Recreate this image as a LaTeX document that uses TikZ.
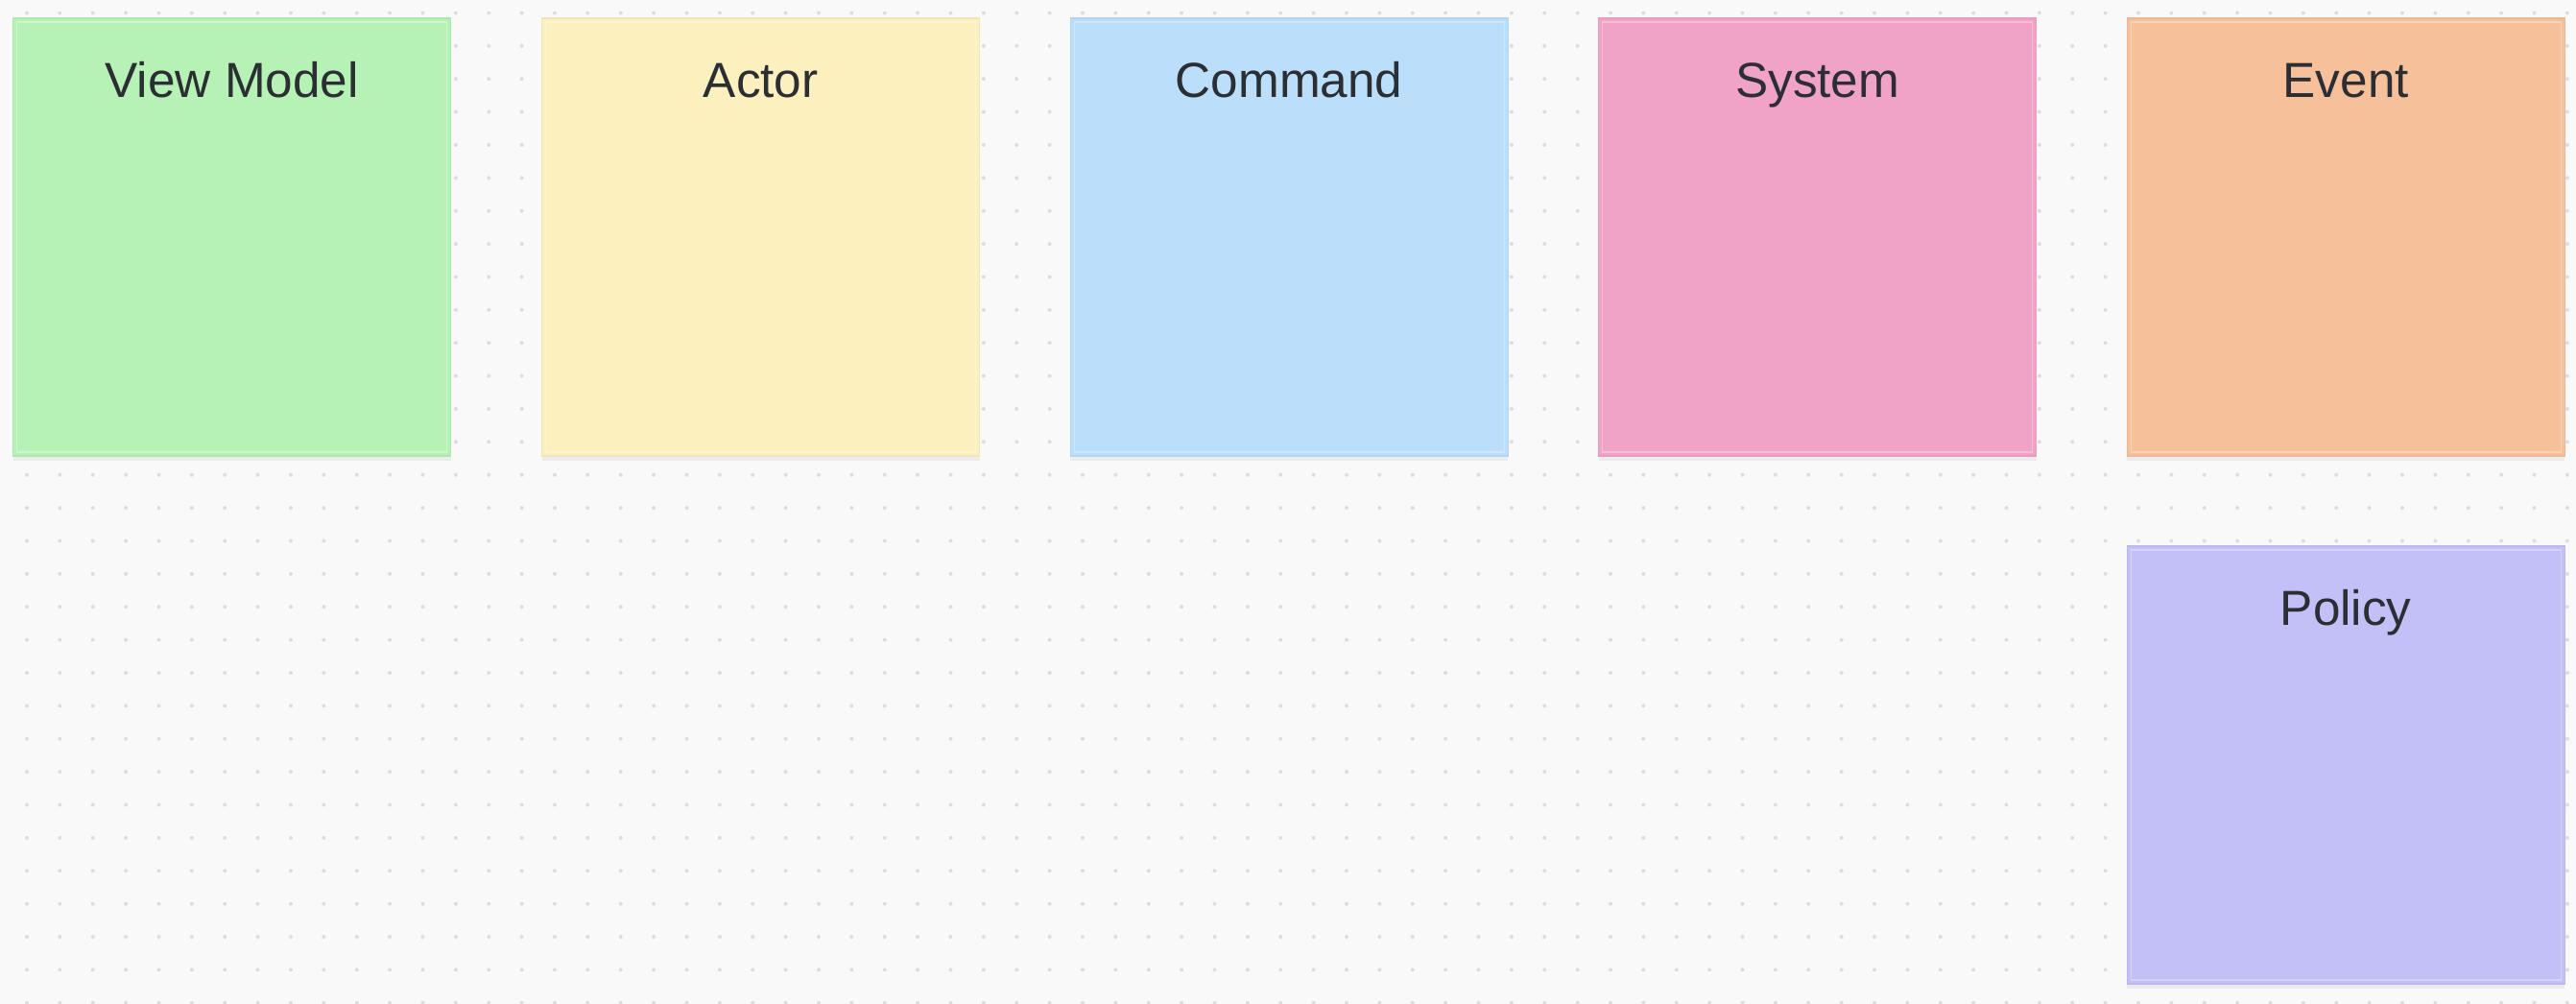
\documentclass[tikz,border=0pt]{standalone}
\usepackage{fontspec}
\setmainfont{Liberation Sans}
\usetikzlibrary{positioning,shadows}

\definecolor{canvas}{HTML}{F9F9F9}
\definecolor{griddot}{HTML}{DCDCE1}
\definecolor{inkdark}{HTML}{2B2E33}
\definecolor{vmgreen}{HTML}{B6F2B6}
\definecolor{actoryellow}{HTML}{FBF0BE}
\definecolor{cmdblue}{HTML}{BBDEFB}
\definecolor{syspink}{HTML}{F1A2C7}
\definecolor{evorange}{HTML}{F5C09A}
\definecolor{polviolet}{HTML}{C3C0F8}

\tikzset{
  note/.style={rectangle, minimum width=4.56cm, minimum height=4.56cm,
    inner sep=0pt, outer sep=0pt, anchor=north west, fill=#1, draw=#1!96!black,
    line width=0.4pt,
    drop shadow={shadow xshift=0cm, shadow yshift=-0.05cm, opacity=0.05, fill=black}},
  notetitle/.style={anchor=base, text=inkdark, font=\fontsize{14.6}{17}\selectfont},
  innerline/.style={draw=white, draw opacity=0.3, line width=0.4pt}
}

\begin{document}
\begin{tikzpicture}
    \fill[canvas] (0,0) rectangle (26.84,-10.46);
    \useasboundingbox (0,0) rectangle (26.84,-10.46);
    % dotted canvas
    \foreach \i in {0,...,77}
        \foreach \j in {0,...,30}
            \fill[griddot] (0.28+\i*0.34375,-0.135-\j*0.34375) circle (0.02);
    % sticky notes
    \node[note=vmgreen] (vm) at (0.137,-0.19) {};
    \node[note=actoryellow, right=0.95cm of vm.north east, anchor=north west] (actor) {};
    \node[note=cmdblue, right=0.945cm of actor.north east, anchor=north west] (cmd) {};
    \node[note=syspink, right=0.945cm of cmd.north east, anchor=north west] (sys) {};
    \node[note=evorange, right=0.945cm of sys.north east, anchor=north west] (ev) {};
    \node[note=polviolet, below=0.94cm of ev.south west, anchor=north west] (pol) {};
    \foreach \n in {vm,actor,cmd,sys,ev,pol}
        \draw[innerline] ([shift={(0.04,-0.04)}]\n.north west) rectangle ([shift={(-0.04,0.04)}]\n.south east);
    % titles
    \node[notetitle] (vmtitle) at ([yshift=-0.83cm]vm.north) {View Model};
    \node[notetitle] (actortitle) at ([yshift=-0.83cm]actor.north) {Actor};
    \node[notetitle] (cmdtitle) at ([yshift=-0.83cm]cmd.north) {Command};
    \node[notetitle] (systitle) at ([yshift=-0.83cm]sys.north) {System};
    \node[notetitle] (evtitle) at ([yshift=-0.83cm]ev.north) {Event};
    \node[notetitle] (poltitle) at ([yshift=-0.83cm]pol.north) {Policy};
\end{tikzpicture}
\end{document}
